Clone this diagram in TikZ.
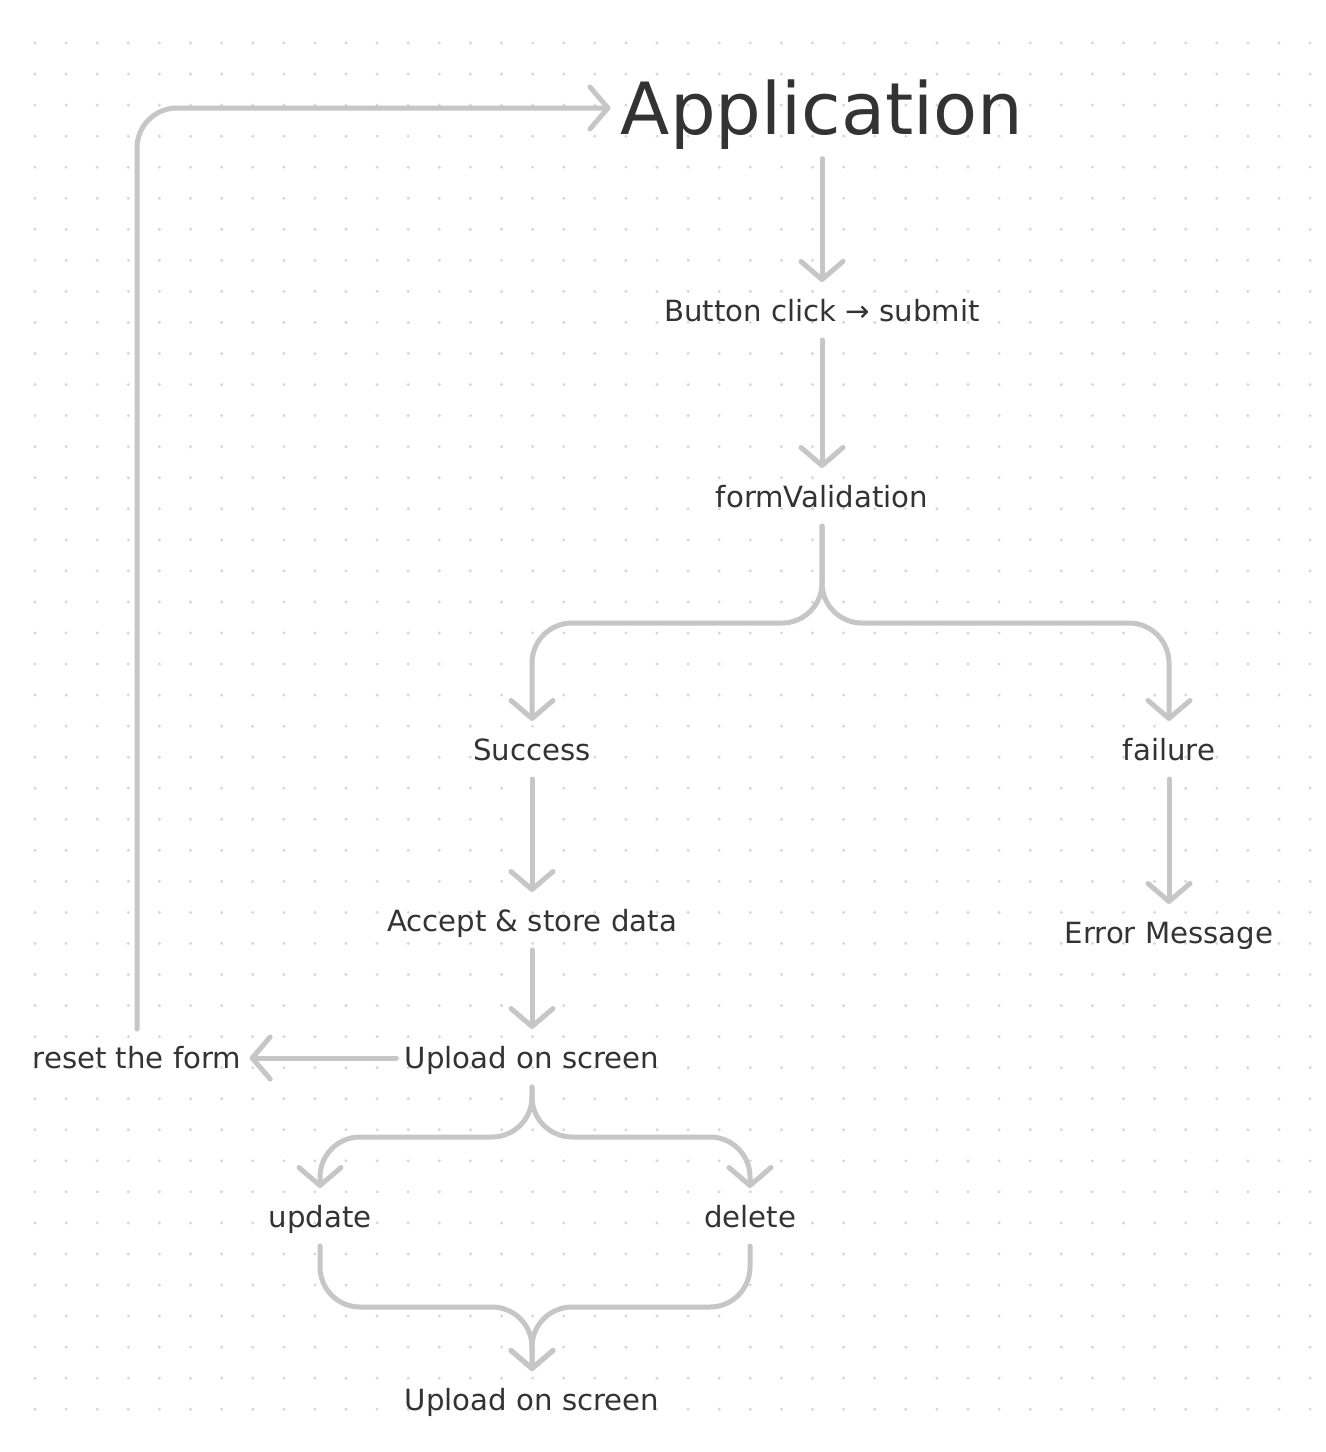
\documentclass[tikz,border=0pt]{standalone}
\usepackage{fontspec}
\setmainfont{DejaVu Sans}
\usetikzlibrary{arrows.meta}
\definecolor{txtc}{HTML}{333333}
\definecolor{linec}{HTML}{C6C6C6}
\definecolor{dotc}{HTML}{D6D6D6}
\tikzset{
  lbl/.style={text=txtc, font=\fontsize{14.6pt}{17pt}\selectfont, text height=10.6pt, text depth=0pt, inner xsep=4pt, inner ysep=9pt},
  title/.style={text=txtc, font=\fontsize{36pt}{40pt}\selectfont, text height=26.2pt, text depth=0pt, inner xsep=5pt, inner ysep=12pt},
  conn/.style={draw=linec, line width=2.5pt, line cap=round, line join=round, rounded corners=20pt},
}
\begin{document}
\begin{tikzpicture}[x=0.5pt, y=-0.5pt, >={Straight Barb[length=9pt,width=21pt,round]}]
  \fill[white] (0,0) rectangle (1326,1452);
  \useasboundingbox (0,0) rectangle (1326,1452);
  \foreach\i in{0,...,41}{\foreach\j in{0,...,44}{\fill[dotc]({35+31.1*\i},{43+31.05*\j}) circle (0.8pt);}}
  % labels
  \node[title] (app) at (822,108) {Application};
  \node[lbl] (btn) at (822,311) {Button click \char"2192{} submit};
  \node[lbl] (valid) at (822,497) {formValidation};
  \node[lbl] (succ) at (532,750) {Success};
  \node[lbl] (fail) at (1169,750) {failure};
  \node[lbl] (accept) at (532,921) {Accept \& store data};
  \node[lbl] (err) at (1169,933) {Error Message};
  \node[lbl] (upload) at (532,1058) {Upload on screen};
  \node[lbl] (reset) at (137,1058) {reset the form};
  \node[lbl] (upd) at (320,1217) {update};
  \node[lbl] (del) at (750,1217) {delete};
  \node[lbl] (upload2) at (532,1400) {Upload on screen};
  \coordinate (vsplit) at (822,623);
  \coordinate (usplit) at (532,1137);
  \coordinate (ujoin) at (532,1307);
  % connectors
  \draw[conn,->] (app.south) -- (btn.north);
  \draw[conn,->] (btn.south) -- (valid.north);
  \draw[conn,->] (valid.south) -- (vsplit) -| (succ.north);
  \draw[conn,->] (valid.south) -- (vsplit) -| (fail.north);
  \draw[conn,->] (succ.south) -- (accept.north);
  \draw[conn,->] (fail.south) -- (err.north);
  \draw[conn,->] (accept.south) -- (upload.north);
  \draw[conn,->] (upload.west) -- (reset.east);
  \draw[conn,->] (reset.north) |- (app.west);
  \draw[conn,->] (upload.south) -- (usplit) -| (upd.north);
  \draw[conn,->] (upload.south) -- (usplit) -| (del.north);
  \draw[conn,->] (upd.south) |- (ujoin) -- (upload2.north);
  \draw[conn,->] (del.south) |- (ujoin) -- (upload2.north);
\end{tikzpicture}
\end{document}
